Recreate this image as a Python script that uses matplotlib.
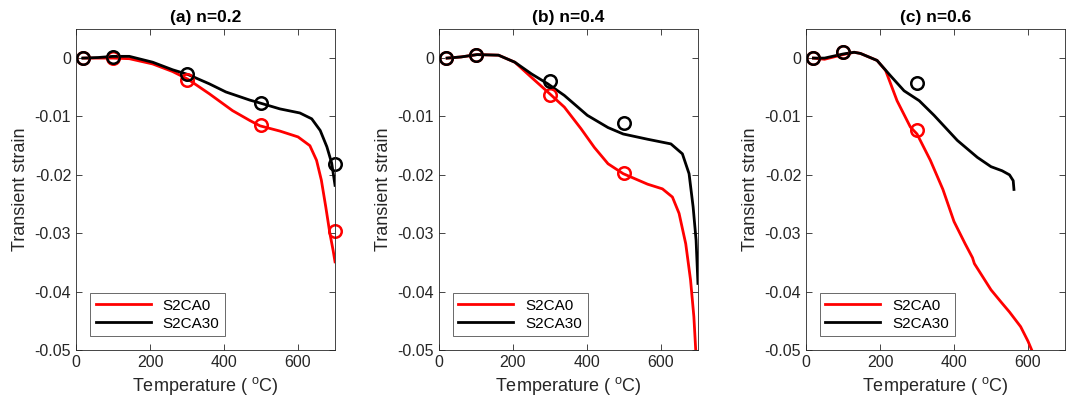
import numpy as np
import matplotlib
matplotlib.use("Agg")
import matplotlib.pyplot as plt

plt.rcParams['font.family'] = ['Liberation Sans', 'DejaVu Sans']
plt.rcParams['mathtext.default'] = 'regular'

# (a) n=0.2
Ta_r = [20, 60, 100, 144, 207, 261, 302, 360, 423, 470, 497, 551, 600, 632, 650, 663, 675, 686, 695, 700]
Sa_r = [0, 0, 0, -0.0001, -0.0010, -0.0023, -0.0036, -0.0061, -0.0090, -0.0107, -0.0116, -0.0125, -0.0135, -0.0150, -0.0175, -0.0209, -0.0255, -0.0300, -0.0330, -0.0349]
Ta_k = [18, 60, 99, 144, 207, 261, 302, 360, 405, 470, 487, 551, 605, 637, 660, 678, 691, 700]
Sa_k = [0, 0.0001, 0.0003, 0.0003, -0.0007, -0.0020, -0.0028, -0.0044, -0.0058, -0.0072, -0.0075, -0.0087, -0.0094, -0.0104, -0.0124, -0.0152, -0.0180, -0.0218]
Ma_T = [20, 100, 300, 500, 700]
Ma_r = [0, 0, -0.0037, -0.0115, -0.0296]
Ma_k = [0, 0.0002, -0.0028, -0.0077, -0.0182]

# (b) n=0.4
Tb_r = [22, 60, 103, 161, 205, 250, 294, 339, 384, 420, 457, 498, 564, 604, 631, 649, 667, 680, 689, 694]
Sb_r = [0, 0.0002, 0.0006, 0.0005, -0.0007, -0.0033, -0.0058, -0.0084, -0.0121, -0.0153, -0.0181, -0.0198, -0.0216, -0.0224, -0.0238, -0.0266, -0.0318, -0.0380, -0.0443, -0.0500]
Tb_k = [22, 60, 103, 161, 205, 250, 294, 339, 401, 457, 498, 564, 627, 658, 676, 687, 695, 700]
Sb_k = [0, 0.0002, 0.0006, 0.0005, -0.0007, -0.0027, -0.0044, -0.0064, -0.0098, -0.0119, -0.0130, -0.0139, -0.0147, -0.0164, -0.0198, -0.0255, -0.0312, -0.0386]
Mb_T = [20, 100, 300, 500]
Mb_r = [0, 0.0006, -0.0064, -0.0197]
Mb_k = [0, 0.0005, -0.0039, -0.0112]

# (c) n=0.6
Tc_r = [20, 50, 100, 130, 147, 192, 215, 246, 282, 300, 336, 370, 400, 430, 450, 455, 500, 530, 550, 580, 600, 610]
Sc_r = [0, -0.0002, 0.0006, 0.0010, 0.0008, -0.0004, -0.0021, -0.0073, -0.0118, -0.0130, -0.0175, -0.0225, -0.0280, -0.0318, -0.0342, -0.0352, -0.0397, -0.0420, -0.0435, -0.0460, -0.0485, -0.0500]
Tc_k = [20, 50, 100, 130, 147, 192, 228, 265, 306, 346, 409, 463, 500, 530, 550, 560, 562]
Sc_k = [0, 0, 0.0007, 0.0010, 0.0008, -0.0004, -0.0030, -0.0056, -0.0073, -0.0098, -0.0141, -0.0170, -0.0186, -0.0193, -0.0200, -0.0210, -0.0225]
Mc_T = [20, 100, 300]
Mc_r = [0, 0.0010, -0.0124]
Mc_k = [0, 0.0011, -0.0042]

titles = ['(a) n=0.2', '(b) n=0.4', '(c) n=0.6']
paneles = [
    (Ta_r, Sa_r, Ta_k, Sa_k, Ma_T, Ma_r, Ma_k),
    (Tb_r, Sb_r, Tb_k, Sb_k, Mb_T, Mb_r, Mb_k),
    (Tc_r, Sc_r, Tc_k, Sc_k, Mc_T, Mc_r, Mc_k),
]
lefts = [0.0712, 0.411, 0.7547]

gris = '#262626'
fig = plt.figure(figsize=(10.68, 4.09), dpi=100)

for i in range(3):
    Tr, Sr, Tk, Sk, MT, Mr, Mk = paneles[i]
    ax = fig.add_axes([lefts[i], 0.1443, 0.2425, 0.785])
    ax.plot(Tr, Sr, color='red', lw=2, label='S2CA0', solid_joinstyle='round')
    ax.plot(Tk, Sk, color='black', lw=2, label='S2CA30', solid_joinstyle='round')
    ax.plot(MT, Mr, 'o', mfc='none', mec='red', ms=9, mew=1.8, clip_on=False)
    ax.plot(MT, Mk, 'o', mfc='none', mec='black', ms=9, mew=1.8, clip_on=False)
    ax.set_xlim(0, 700)
    ax.set_ylim(-0.05, 0.005)
    ax.set_xticks([0, 200, 400, 600])
    ax.set_yticks([-0.05, -0.04, -0.03, -0.02, -0.01, 0])
    ax.set_yticklabels(['-0.05', '-0.04', '-0.03', '-0.02', '-0.01', '0'])
    ax.tick_params(direction='in', top=True, right=True, labelsize=11.5,
                   colors=gris, length=4, width=0.6)
    for s in ax.spines.values():
        s.set_color(gris)
        s.set_linewidth(0.6)
    ax.set_title(titles[i], fontsize=12.5, fontweight='bold', pad=5)
    ax.set_xlabel('Temperature ( $^{o}$C)', fontsize=13, color=gris)
    ax.set_ylabel('Transient strain', fontsize=13, color=gris)
    leg = ax.legend(loc='lower left', bbox_to_anchor=(0.025, 0.02), fontsize=11,
                    handlelength=3.6, frameon=True, fancybox=False,
                    edgecolor=gris, borderpad=0.35, labelspacing=0.25)
    leg.get_frame().set_linewidth(0.6)

plt.savefig('out.png', dpi=100)
